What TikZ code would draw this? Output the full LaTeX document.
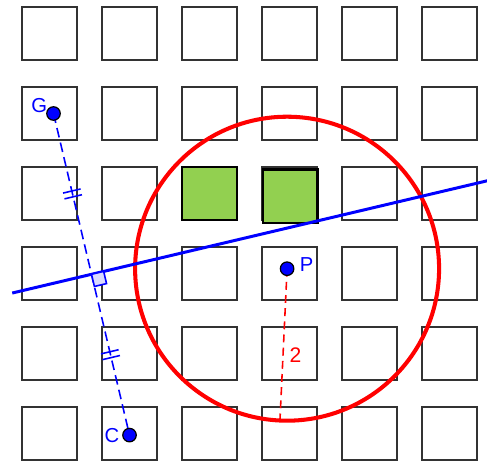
\documentclass[tikz,border=0pt]{standalone}
\usepackage{fontspec}
\setmainfont{Liberation Sans}
\usetikzlibrary{calc}
\definecolor{feldgruen}{RGB}{146,208,80}

\begin{document}
\begin{tikzpicture}[x=1.6cm, y=1.6cm,
        kasten/.style={draw=black!80, line width=1.05pt},
        gruenfeld/.style={draw=black, line width=1.3pt, fill=feldgruen},
        kreislinie/.style={draw=red, line width=2.3pt},
        gerade/.style={draw=blue, line width=1.7pt},
        blaudashed/.style={draw=blue, line width=0.9pt, dash pattern=on 5.5pt off 3pt},
        rotdashed/.style={draw=red, line width=0.9pt, dash pattern=on 4.5pt off 3pt},
        markierung/.style={draw=blue, line width=0.9pt},
        punkt/.style={circle, draw=black, line width=0.7pt, fill=blue, inner sep=0pt, minimum size=2.7mm},
        beschriftung/.style={text=blue, font=\fontsize{11.5}{13}\selectfont},
        radiuslabel/.style={text=red, font=\fontsize{12}{14}\selectfont}]
        \useasboundingbox (-0.619,-0.344) rectangle (5.469,5.419);

        % zeichne Raster
        \foreach \x in {0,...,5}
            \foreach \y in {0,...,5}
                \draw[kasten] (\x-0.34,\y-0.335) rectangle (\x+0.34,\y+0.335);

        % zeichne gruene Felder
        \draw[gruenfeld] (1.66,2.665) rectangle (2.34,3.335);
        \draw[gruenfeld] (2.665,2.63) rectangle (3.35,3.30);

        % Punkte
        \coordinate (G) at (0.05,4.0);
        \coordinate (C) at (1.0,-0.02);
        \coordinate (P) at (2.97,2.06);
        \coordinate (M) at ($(G)!0.5!(C)$);

        % zeichne Kreis um P
        \draw[kreislinie] (P) circle (3.04cm);
        \coordinate (R) at ($(P)+(267.3:3.04cm)$);
        \draw[rotdashed] (P) -- (R) node[radiuslabel, pos=0.57, right] (radius) {2};

        % zeichne Mittelsenkrechte
        \coordinate (links) at ($(M)!1.63cm!-90:(C)$);
        \coordinate (rechts) at ($(M)!8.13cm!90:(C)$);
        \draw[gerade] (links) -- (rechts);
        \draw[blaudashed] (G) -- (C);

        % rechter Winkel
        \coordinate (W1) at ($(M)!0.25cm!(C)$);
        \coordinate (W2) at ($(M)!0.25cm!90:(C)$);
        \coordinate (W3) at ($(W1)+(W2)-(M)$);
        \draw[markierung, fill=blue!15] (M) -- (W1) -- (W3) -- (W2) -- cycle;

        % gleiche Strecken
        \foreach \t in {0.241,0.259,0.741,0.759} {
            \coordinate (T) at ($(G)!\t!(C)$);
            \draw[markierung] ($(T)!0.18cm!90:(C)$) -- ($(T)!0.18cm!-90:(C)$);
        }

        % zeichne Punkte und Labels
        \node[punkt] (punktG) at (G) {};
        \node[punkt] (punktC) at (C) {};
        \node[punkt] (punktP) at (P) {};
        \node[beschriftung] (labelG) at (-0.13,4.105) {G};
        \node[beschriftung] (labelC) at (0.78,-0.02) {C};
        \node[beschriftung] (labelP) at (3.215,2.106) {P};
    \end{tikzpicture}
\end{document}
